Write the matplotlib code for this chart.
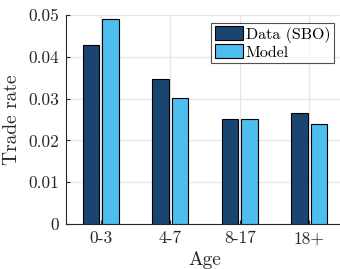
import matplotlib
matplotlib.use("Agg")
import matplotlib.pyplot as plt
import numpy as np

# Trade rate by age group: data vs. model
ages = ["0-3", "4-7", "8-17", "18+"]
data_sbo = [0.0428, 0.0348, 0.0251, 0.0265]
model = [0.0491, 0.0301, 0.0251, 0.0240]
yticks = [0, 0.01, 0.02, 0.03, 0.04, 0.05]
ytick_labels = ["0", "0.01", "0.02", "0.03", "0.04", "0.05"]

plt.rcParams["font.family"] = "serif"
plt.rcParams["font.serif"] = ["cmr10", "DejaVu Serif"]
plt.rcParams["mathtext.fontset"] = "cm"

fig = plt.figure(figsize=(3.4, 2.69), dpi=100)
ax = fig.add_axes([0.194, 0.167, 0.818, 0.777])

x = np.arange(1, len(ages) + 1)
w = 0.235
off = 0.14
ax.bar(x - off, data_sbo, w, color="#1a4570", edgecolor="black",
       linewidth=0.8, label="Data (SBO)", zorder=3)
ax.bar(x + off, model, w, color="#4dbeee", edgecolor="black",
       linewidth=0.8, label="Model", zorder=3)

ax.set_xlim(0.5, 4.5)
ax.set_ylim(0, 0.05)
ax.set_xticks(x)
ax.set_xticklabels(ages)
ax.set_yticks(yticks)
ax.set_yticklabels(ytick_labels)
ax.tick_params(direction="in", length=3, labelsize=12.5, colors="#262626",
               pad=5)
ax.grid(True, color="#e6e6e6", linewidth=0.9, zorder=0)
ax.set_axisbelow(True)

for side in ["top", "right"]:
    ax.spines[side].set_visible(False)
for side in ["left", "bottom"]:
    ax.spines[side].set_color("#262626")
    ax.spines[side].set_linewidth(0.8)

ax.set_ylabel("Trade rate", fontsize=14, color="#262626", labelpad=5)
ax.set_xlabel("Age", fontsize=14, color="#262626", labelpad=3)

leg = ax.legend(loc="upper right", bbox_to_anchor=(0.962, 0.962),
                fontsize=11.5, frameon=True, fancybox=False,
                edgecolor="#262626", handlelength=1.75, handleheight=0.95,
                handletextpad=0.2, borderpad=0.2, labelspacing=0.12,
                borderaxespad=0.0)
leg.get_frame().set_linewidth(0.8)

plt.savefig("out.png", dpi=100)
plt.close()
